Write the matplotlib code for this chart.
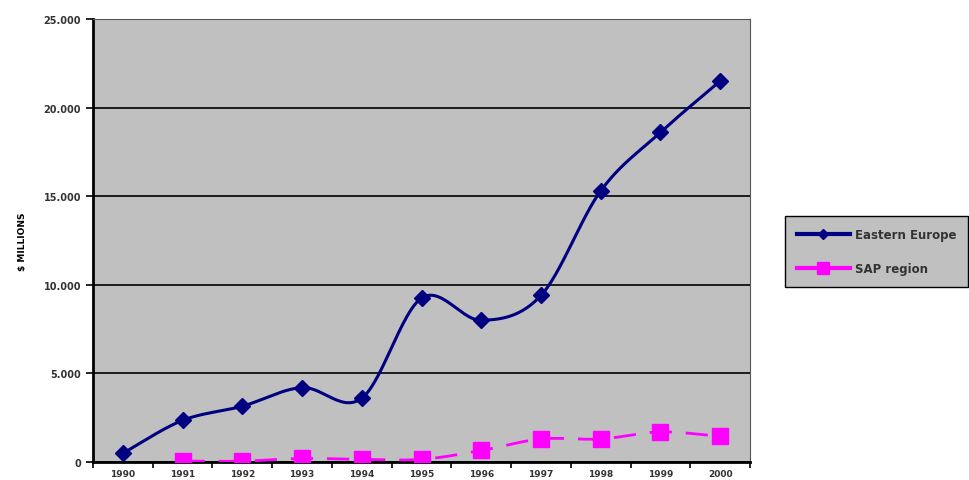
import matplotlib
matplotlib.use('Agg')
import matplotlib.pyplot as plt
import numpy as np

years = ['1990', '1991', '1992', '1993', '1994', '1995', '1996', '1997', '1998', '1999', '2000']
eastern_europe = [500, 2350, 3150, 4200, 3600, 9250, 8000, 9400, 15300, 18600, 21500]
sap_years = ['1991', '1992', '1993', '1994', '1995', '1996', '1997', '1998', '1999', '2000']
sap_region = [50, 50, 200, 150, 150, 650, 1300, 1300, 1700, 1450]


def smooth(x, y, n=30):
    # catmull-rom curve through the points, like excel's smoothed line
    x = np.asarray(x, float)
    y = np.asarray(y, float)
    px = np.concatenate([[2 * x[0] - x[1]], x, [2 * x[-1] - x[-2]]])
    py = np.concatenate([[2 * y[0] - y[1]], y, [2 * y[-1] - y[-2]]])
    xs, ys = [], []
    t = np.linspace(0, 1, n)
    for i in range(1, len(px) - 2):
        for p, out in ((px, xs), (py, ys)):
            p0, p1, p2, p3 = p[i - 1], p[i], p[i + 1], p[i + 2]
            out.extend(0.5 * (2 * p1 + (-p0 + p2) * t
                              + (2 * p0 - 5 * p1 + 4 * p2 - p3) * t ** 2
                              + (-p0 + 3 * p1 - 3 * p2 + p3) * t ** 3))
    return np.array(xs), np.array(ys)


fig = plt.figure(figsize=(9.69, 4.81), dpi=100)
ax = fig.add_axes([0.096, 0.0374, 0.678, 0.921])
ax.set_facecolor('#c0c0c0')

x_ee = np.arange(len(years))
x_sap = np.array([years.index(y) for y in sap_years])

sx, sy = smooth(x_ee, eastern_europe)
ax.plot(sx, sy, color='#000080', lw=2.2, zorder=3)
ax.plot(x_ee, eastern_europe, ls='none', marker='D', ms=8, color='#000080', zorder=4)

sx2, sy2 = smooth(x_sap, sap_region)
ax.plot(sx2, sy2, color='#ff00ff', lw=2, dashes=(8, 5), zorder=3)
ax.plot(x_sap, sap_region, ls='none', marker='s', ms=11, color='#ff00ff', zorder=4)

ax.set_xlim(-0.5, len(years) - 0.5)
ax.set_ylim(0, 25000)
ax.set_yticks(range(0, 25001, 5000))
ax.set_yticklabels(['0', '5.000', '10.000', '15.000', '20.000', '25.000'])
ax.set_xticks(x_ee)
ax.set_xticklabels(years)
ax.set_xticks(np.arange(-0.5, len(years)), minor=True)
ax.tick_params(axis='x', which='major', length=0, pad=5, labelsize=6.5)
ax.tick_params(axis='x', which='minor', length=4, width=1.2, direction='out')
ax.tick_params(axis='y', length=5, width=1.2, direction='out', labelsize=7)
ax.tick_params(labelcolor='#333333')
for lab in ax.get_xticklabels() + ax.get_yticklabels():
    lab.set_fontweight('bold')
ax.grid(axis='y', color='black', lw=1.2)
ax.set_axisbelow(True)

for s in ('left', 'bottom'):
    ax.spines[s].set_linewidth(2)
for s in ('top', 'right'):
    ax.spines[s].set_color('#555555')
    ax.spines[s].set_linewidth(0.8)

ax.set_ylabel('$ MILLIONS', fontsize=6.5, fontweight='bold', labelpad=12)

h1, = ax.plot([], [], color='#000080', lw=3, marker='D', ms=5)
h2, = ax.plot([], [], color='#ff00ff', lw=3, marker='s', ms=8)
leg = fig.legend([h1, h2], ['Eastern Europe', 'SAP region'], loc='center left',
                 bbox_to_anchor=(0.81, 0.475), frameon=True,
                 prop={'size': 8.5, 'weight': 'bold'},
                 fancybox=False, edgecolor='black', facecolor='#c0c0c0',
                 labelspacing=1.8, handlelength=4.5, handletextpad=0.4,
                 borderpad=1.0, borderaxespad=0, labelcolor='#333333')
leg.get_frame().set_linewidth(1)
leg.get_frame().set_alpha(1)

plt.savefig('out.png', dpi=100)
